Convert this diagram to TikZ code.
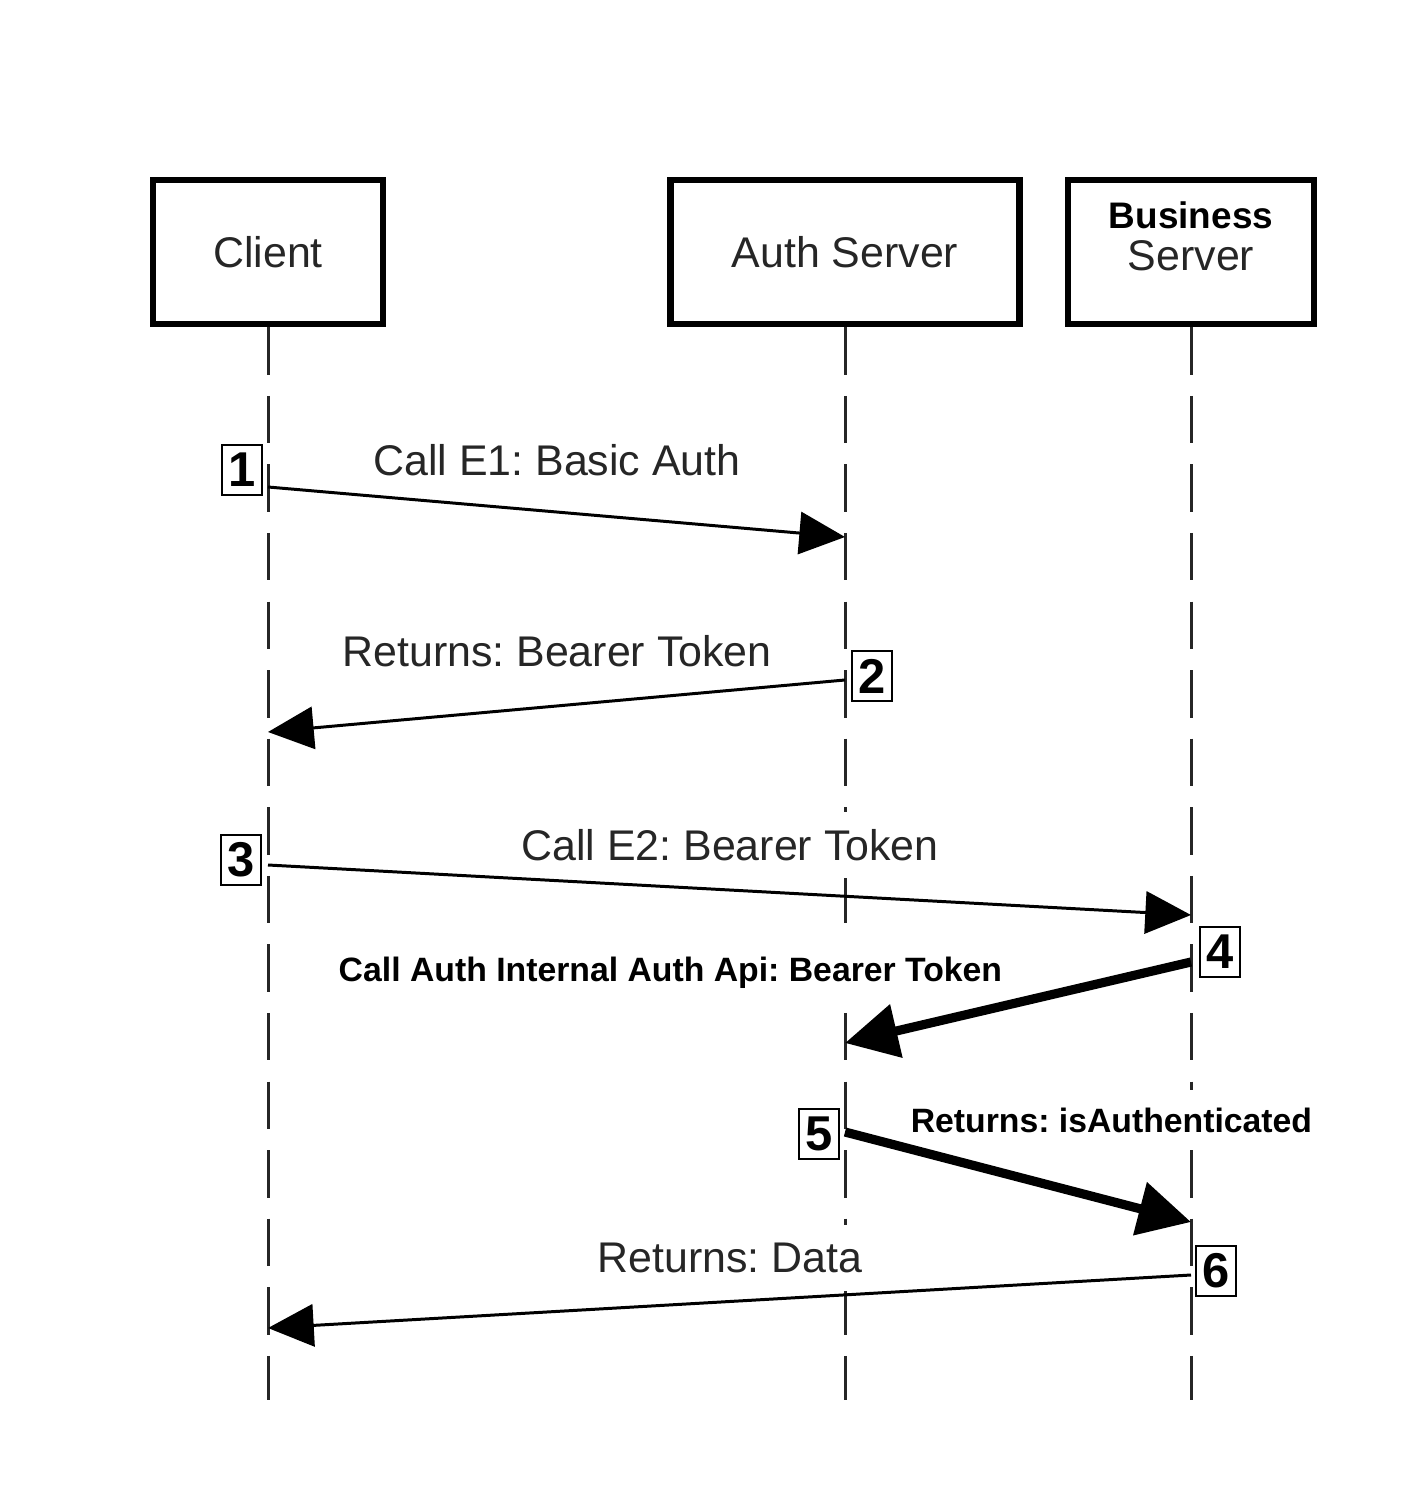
\documentclass[tikz,border=0pt]{standalone}
\usepackage{fontspec}
\setmainfont{Liberation Sans}
\usetikzlibrary{arrows.meta,positioning}
\frenchspacing

\begin{document}
\begin{tikzpicture}[x=0.01cm,y=-0.01cm,
    actor/.style={draw,line width=1.8pt,minimum height=1.44cm,inner sep=0pt,
        font=\fontsize{12.2}{14}\selectfont,text=black!85},
    lifeline/.style={line width=0.85pt,black!85,dash pattern=on 13.5pt off 6pt},
    msg/.style={line width=0.85pt,-{Triangle[length=13pt,width=12pt]}},
    bigmsg/.style={line width=2.6pt,-{Triangle[length=15pt,width=15pt]}},
    msglabel/.style={font=\fontsize{12.2}{14}\selectfont,text=black!85,fill=white,
        inner xsep=2pt,inner ysep=5pt},
    boldlabel/.style={font=\fontsize{9.6}{11}\selectfont\bfseries,fill=white,
        inner xsep=2pt,inner ysep=5pt},
    stepnum/.style={draw,line width=0.6pt,minimum width=0.4cm,minimum height=0.5cm,
        inner sep=0pt,font=\fontsize{13.9}{15}\selectfont\bfseries}]

    \useasboundingbox (0,0) rectangle (1416,1498);

    % participants
    \node[actor,minimum width=2.3cm] (client) at (268,252) {Client};
    \node[actor,minimum width=3.49cm] (auth) at (845,252) {Auth Server};
    \node[actor,minimum width=2.46cm] (business) at (1191,252) {};
    \node[font=\fontsize{10.5}{12}\selectfont\bfseries,inner sep=0pt] (businesstop) at (1191,215) {Business};
    \node[font=\fontsize{12.2}{14}\selectfont,text=black!85,inner sep=0pt] (businessbot) at (1191,256) {Server};

    % lifelines
    \coordinate (clientend) at (268,1400);
    \coordinate (authend) at (845,1400);
    \coordinate (businessend) at (1191,1400);
    \draw[lifeline] (client.south) -- (clientend);
    \draw[lifeline] (auth.south) -- (authend);
    \draw[lifeline] (business.south) -- (businessend);

    % labels
    \node[msglabel] (l1) at (557,460) {Call E1: Basic Auth};
    \node[msglabel] (l2) at (557,651) {Returns: Bearer Token};
    \node[msglabel] (l3) at (730,845) {Call E2: Bearer Token};
    \node[boldlabel,anchor=west] (l4) at (331,973) {Call Auth Internal Auth Api: Bearer Token};
    \node[boldlabel,anchor=west] (l5) at (903,1120) {Returns: isAuthenticated};
    \node[msglabel] (l6) at (730,1258) {Returns: Data};

    % message end points
    \coordinate (m1a) at (268,487);
    \coordinate (m1b) at (845,537);
    \coordinate (m2a) at (845,680);
    \coordinate (m2b) at (268,732);
    \coordinate (m3a) at (268,865);
    \coordinate (m3b) at (1191,915);
    \coordinate (m4a) at (1191,962);
    \coordinate (m4b) at (845,1043);
    \coordinate (m5a) at (845,1132);
    \coordinate (m5b) at (1191,1222);
    \coordinate (m6a) at (1191,1275);
    \coordinate (m6b) at (268,1328);

    % messages
    \draw[msg] (m1a) -- (m1b);
    \draw[msg] (m2a) -- (m2b);
    \draw[msg] (m3a) -- (m3b);
    \draw[bigmsg] (m4a) -- (m4b);
    \draw[bigmsg] (m5a) -- (m5b);
    \draw[msg] (m6a) -- (m6b);

    % step numbers
    \node[stepnum] (n1) at (242,470) {1};
    \node[stepnum] (n2) at (872,676) {2};
    \node[stepnum] (n3) at (241,860) {3};
    \node[stepnum] (n4) at (1220,952) {4};
    \node[stepnum] (n5) at (819,1134) {5};
    \node[stepnum] (n6) at (1216,1271) {6};
\end{tikzpicture}
\end{document}
